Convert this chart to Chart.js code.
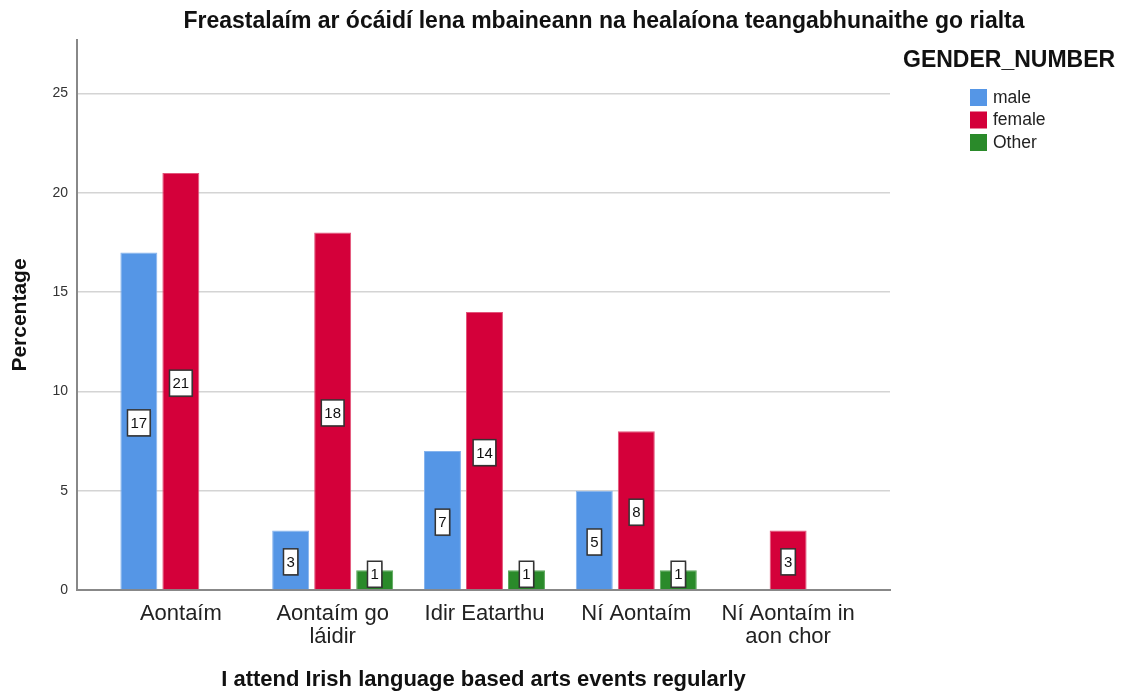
<!DOCTYPE html>
<html>
<head>
<meta charset="utf-8">
<script src="https://cdn.jsdelivr.net/npm/chart.js@4/dist/chart.umd.min.js"></script>
<style>
  body { margin: 0; background: #fff; }
  #wrap { width: 1123px; height: 691px; position: relative; }
</style>
</head>
<body>
<div id="wrap"><canvas id="barChart"></canvas></div>
<script>
const FONT = "'Liberation Sans', Arial, sans-serif";

const chartTitle = "Freastalaím ar ócáidí lena mbaineann na healaíona teangabhunaithe go rialta";
const xTitle = "I attend Irish language based arts events regularly";
const yTitle = "Percentage";
const legendTitle = "GENDER_NUMBER";

const categories = ["Aontaím", "Aontaím go láidir", "Idir Eatarthu", "Ní Aontaím", "Ní Aontaím in aon chor"];
const tickLabels = [["Aontaím"], ["Aontaím go", "láidir"], ["Idir Eatarthu"], ["Ní Aontaím"], ["Ní Aontaím in", "aon chor"]];
const yTicks = [0, 5, 10, 15, 20, 25];

const seriesNames = ["male", "female", "Other"];
const male = [17, 3, 7, 5, null];
const female = [21, 18, 14, 8, 3];
const other = [null, 1, 1, 1, null];

const colors = ["#5596e6", "#d4003a", "#2a8a2a"];
const edges = ["#86b4ee", "#e2557a", "#5aa85a"];

function points(values) {
    return values.map((v, i) => ({ x: i, y: v }));
}

// white boxed value labels in the middle of each bar
const boxLabels = {
    id: "boxLabels",
    afterDatasetsDraw(chart) {
        const ctx = chart.ctx;
        ctx.save();
        ctx.font = "15px " + FONT;
        ctx.textAlign = "center";
        ctx.textBaseline = "middle";
        chart.data.datasets.forEach((ds, di) => {
            const meta = chart.getDatasetMeta(di);
            meta.data.forEach((bar, i) => {
                const v = ds.data[i].y;
                if (v === null) return;
                const txt = String(v);
                const w = ctx.measureText(txt).width + 6;
                const h = 26;
                const cx = bar.x;
                const cy = Math.min((bar.y + bar.base) / 2 + 2, bar.base - h / 2 - 2);
                ctx.fillStyle = "rgba(0,0,0,0.25)";
                ctx.fillRect(cx - w / 2 + 1, cy - h / 2 + 1, w, h);
                ctx.fillStyle = "#fff";
                ctx.fillRect(cx - w / 2, cy - h / 2, w, h);
                ctx.strokeStyle = "#333";
                ctx.lineWidth = 1.5;
                ctx.strokeRect(cx - w / 2, cy - h / 2, w, h);
                ctx.fillStyle = "#111";
                ctx.fillText(txt, cx, cy + 1);
            });
        });
        ctx.restore();
    }
};

// chart title and legend on the right
const decorations = {
    id: "decorations",
    afterDraw(chart) {
        const ctx = chart.ctx;
        ctx.save();
        ctx.fillStyle = "#111";
        ctx.textBaseline = "middle";
        ctx.textAlign = "center";
        ctx.font = "bold 23px " + FONT;
        ctx.fillText(chartTitle, 604, 22);

        ctx.textAlign = "left";
        ctx.font = "bold 23px " + FONT;
        ctx.fillText(legendTitle, 903, 61);

        ctx.font = "17.5px " + FONT;
        seriesNames.forEach((name, i) => {
            const y = 97 + i * 22.5;
            ctx.fillStyle = colors[i];
            ctx.fillRect(970, y - 8, 17, 17);
            ctx.fillStyle = "#222";
            ctx.fillText(name, 993, y + 1);
        });
        ctx.restore();
    }
};

const ctx = document.getElementById("barChart");

new Chart(ctx, {
    type: "bar",
    data: {
        datasets: [male, female, other].map((vals, i) => ({
            label: seriesNames[i],
            data: points(vals),
            backgroundColor: colors[i],
            borderColor: edges[i],
            borderWidth: 1
        }))
    },
    options: {
        responsive: true,
        maintainAspectRatio: false,
        animation: false,
        layout: { padding: { top: 40, right: 233, left: 0, bottom: 0 } },
        datasets: { bar: { categoryPercentage: 0.83, barPercentage: 0.88 } },
        plugins: {
            legend: { display: false },
            tooltip: { enabled: false }
        },
        scales: {
            x: {
                type: "linear",
                offset: false,
                min: -0.684,
                max: 4.671,
                grid: { display: false, offset: false },
                border: { color: "#888", width: 2 },
                ticks: {
                    stepSize: 1,
                    includeBounds: false,
                    autoSkip: false,
                    maxRotation: 0,
                    padding: 4,
                    color: "#222",
                    font: { family: FONT, size: 22, lineHeight: 1.05 },
                    callback: (v) => Number.isInteger(v) && tickLabels[v] ? tickLabels[v] : ""
                },
                title: {
                    display: true,
                    text: xTitle,
                    color: "#111",
                    padding: { top: 0, bottom: 0 },
                    font: { family: FONT, size: 22, weight: "bold", lineHeight: 1.0 }
                },
                afterFit(scale) { scale.height = 101; }
            },
            y: {
                min: 0,
                max: 27.7,
                grid: { color: "#d4d4d4", lineWidth: 1.5, drawTicks: false },
                border: { color: "#888", width: 2 },
                afterBuildTicks(scale) { scale.ticks = yTicks.map(v => ({ value: v })); },
                ticks: {
                    padding: 9,
                    color: "#333",
                    font: { family: FONT, size: 14 }
                },
                title: {
                    display: true,
                    text: yTitle,
                    color: "#111",
                    padding: { top: 8, bottom: 0 },
                    font: { family: FONT, size: 21, weight: "bold", lineHeight: 1.2 }
                },
                afterFit(scale) { scale.width = 77; }
            }
        }
    },
    plugins: [boxLabels, decorations]
});
</script>
</body>
</html>
